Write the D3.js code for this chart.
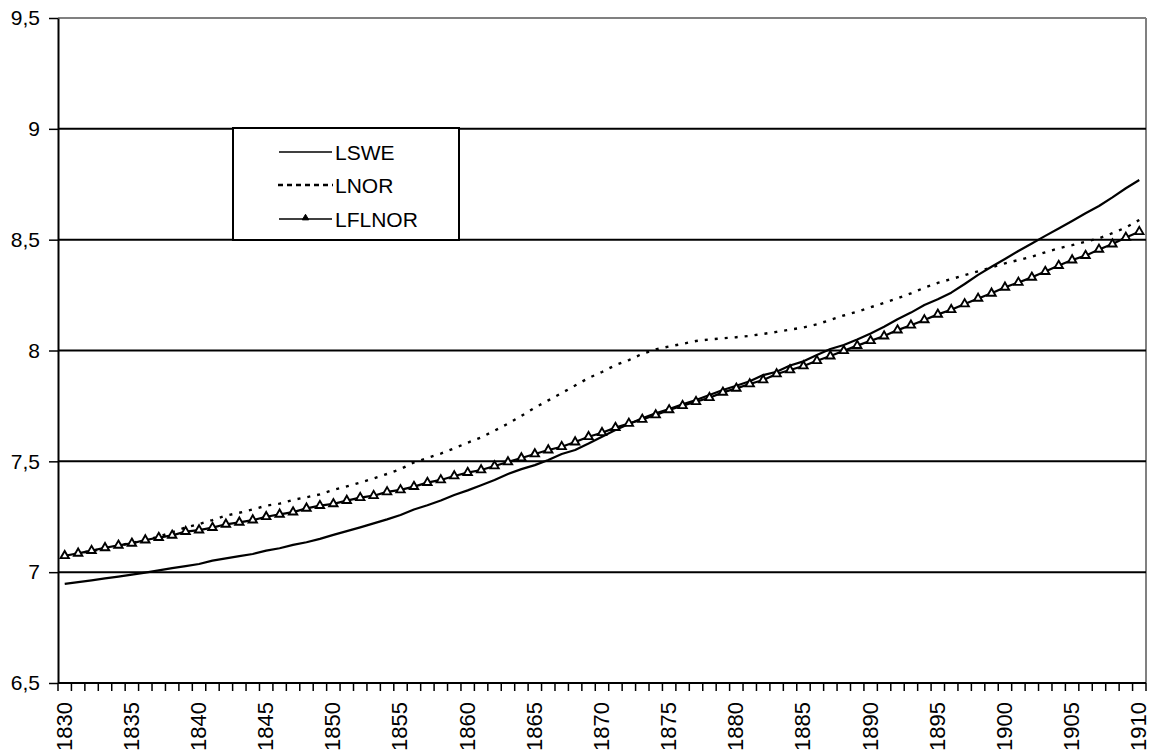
<!DOCTYPE html>
<html>
<head>
<meta charset="utf-8">
<script src="https://cdn.jsdelivr.net/npm/d3@7/dist/d3.min.js"></script>
<style>
  html, body { margin: 0; padding: 0; background: #fff; }
  svg { display: block; font-family: Arial, "Liberation Sans", sans-serif; }
</style>
</head>
<body>
<svg id="chart" width="1149" height="756"></svg>
<script>
// Years on the category axis
const years = d3.range(1830, 1911);

// Series values (log scale), one per year 1830–1910
const LSWE = [
  6.947, 6.955, 6.963, 6.972, 6.980, 6.989, 6.998, 7.008, 7.018, 7.027,
  7.037, 7.052, 7.062, 7.072, 7.082, 7.097, 7.108, 7.123, 7.135, 7.150,
  7.168, 7.185, 7.202, 7.220, 7.238, 7.258, 7.283, 7.302, 7.323, 7.348,
  7.369, 7.392, 7.416, 7.443, 7.465, 7.483, 7.506, 7.533, 7.551, 7.580,
  7.611, 7.641, 7.668, 7.694, 7.717, 7.736, 7.757, 7.777, 7.799, 7.822,
  7.841, 7.861, 7.889, 7.904, 7.932, 7.951, 7.980, 8.007, 8.025, 8.050,
  8.077, 8.107, 8.141, 8.171, 8.205, 8.231, 8.261, 8.300, 8.341, 8.378,
  8.413, 8.449, 8.483, 8.517, 8.550, 8.584, 8.619, 8.652, 8.691, 8.732,
  8.769
];

const LNOR = [
  7.074, 7.085, 7.095, 7.107, 7.120, 7.132, 7.144, 7.160, 7.180, 7.202,
  7.217, 7.235, 7.255, 7.268, 7.283, 7.300, 7.309, 7.326, 7.338, 7.351,
  7.371, 7.387, 7.404, 7.423, 7.443, 7.465, 7.495, 7.515, 7.535, 7.559,
  7.584, 7.608, 7.638, 7.670, 7.705, 7.742, 7.775, 7.808, 7.842, 7.876,
  7.903, 7.934, 7.957, 7.985, 8.005, 8.018, 8.030, 8.043, 8.050, 8.055,
  8.060, 8.066, 8.075, 8.084, 8.094, 8.104, 8.118, 8.138, 8.158, 8.175,
  8.195, 8.215, 8.235, 8.258, 8.283, 8.305, 8.322, 8.340, 8.357, 8.375,
  8.393, 8.408, 8.423, 8.443, 8.461, 8.475, 8.491, 8.506, 8.529, 8.555,
  8.589
];

const LFLNOR = [
  7.074, 7.085, 7.097, 7.110, 7.121, 7.130, 7.145, 7.156, 7.166, 7.183,
  7.190, 7.201, 7.216, 7.225, 7.235, 7.250, 7.261, 7.271, 7.288, 7.300,
  7.308, 7.323, 7.336, 7.345, 7.362, 7.371, 7.386, 7.404, 7.416, 7.434,
  7.449, 7.461, 7.479, 7.497, 7.515, 7.533, 7.551, 7.566, 7.587, 7.611,
  7.629, 7.652, 7.671, 7.689, 7.709, 7.732, 7.751, 7.769, 7.787, 7.811,
  7.829, 7.849, 7.867, 7.894, 7.912, 7.930, 7.954, 7.975, 7.999, 8.022,
  8.044, 8.065, 8.092, 8.114, 8.138, 8.163, 8.184, 8.210, 8.235, 8.258,
  8.285, 8.307, 8.330, 8.356, 8.383, 8.408, 8.428, 8.456, 8.480, 8.510,
  8.536
];

// Value axis ticks and their labels (decimal comma)
const yTicks = [6.5, 7, 7.5, 8, 8.5, 9, 9.5];
const yTickLabels = ["6,5", "7", "7,5", "8", "8,5", "9", "9,5"];

// Every fifth year is labelled
const xTickLabels = years.filter(y => (y - 1830) % 5 === 0).map(String);

const seriesNames = ["LSWE", "LNOR", "LFLNOR"];

// ---- layout ----
const svg = d3.select("#chart");
const plot = { left: 58, right: 1146, top: 18, bottom: 683 };

const x = d3.scaleBand().domain(years).range([plot.left, plot.right]).paddingInner(0).paddingOuter(0);
const cx = yr => x(yr) + x.bandwidth() / 2;
const y = d3.scaleLinear().domain([6.5, 9.5]).range([plot.bottom, plot.top]);

// Plot frame: grey top and right edges
svg.append("line")
  .attr("x1", plot.left).attr("x2", plot.right)
  .attr("y1", plot.top).attr("y2", plot.top)
  .attr("stroke", "#808080").attr("stroke-width", 2);
svg.append("line")
  .attr("x1", plot.right).attr("x2", plot.right)
  .attr("y1", plot.top).attr("y2", plot.bottom)
  .attr("stroke", "#808080").attr("stroke-width", 2);

// Horizontal gridlines
svg.append("g")
  .selectAll("line")
  .data(yTicks.filter(v => v > 6.5 && v < 9.5))
  .join("line")
  .attr("x1", plot.left).attr("x2", plot.right)
  .attr("y1", d => y(d)).attr("y2", d => y(d))
  .attr("stroke", "#000").attr("stroke-width", 2);

// Value axis
const yAxis = d3.axisLeft(y)
  .tickValues(yTicks)
  .tickFormat((d, i) => yTickLabels[i])
  .tickSizeInner(9).tickSizeOuter(0).tickPadding(9);
const gy = svg.append("g").attr("transform", `translate(${plot.left},0)`).call(yAxis);
gy.select(".domain").attr("stroke", "#000").attr("stroke-width", 2);
gy.selectAll(".tick line").attr("stroke", "#000").attr("stroke-width", 1.5);
gy.selectAll(".tick text").attr("font-size", 21).attr("fill", "#000")
  .attr("font-family", "Arial, 'Liberation Sans', sans-serif");

// Category axis: ticks between categories, rotated labels every five years
const gx = svg.append("g");
gx.append("line")
  .attr("x1", plot.left).attr("x2", plot.right)
  .attr("y1", plot.bottom).attr("y2", plot.bottom)
  .attr("stroke", "#000").attr("stroke-width", 2);
const boundaries = years.map(yr => x(yr)).concat([plot.right]);
gx.selectAll("line.tick")
  .data(boundaries)
  .join("line")
  .attr("class", "tick")
  .attr("x1", d => d).attr("x2", d => d)
  .attr("y1", plot.bottom).attr("y2", plot.bottom + 8)
  .attr("stroke", "#000").attr("stroke-width", 1.5);
gx.selectAll("text")
  .data(xTickLabels)
  .join("text")
  .attr("transform", d => `translate(${cx(+d) - 1},${plot.bottom + 19}) rotate(-90)`)
  .attr("text-anchor", "end")
  .attr("dy", "0.36em")
  .attr("font-size", 22)
  .attr("fill", "#000")
  .text(d => d);

// ---- series ----
const lineGen = d3.line().x((d, i) => cx(years[i])).y(d => y(d));

svg.append("path").datum(LSWE)
  .attr("d", lineGen)
  .attr("fill", "none").attr("stroke", "#000").attr("stroke-width", 2.2)
  .attr("stroke-linejoin", "round");

svg.append("path").datum(LNOR)
  .attr("d", lineGen)
  .attr("fill", "none").attr("stroke", "#000").attr("stroke-width", 2.4)
  .attr("stroke-dasharray", "3,7");

svg.append("path").datum(LFLNOR)
  .attr("d", lineGen)
  .attr("fill", "none").attr("stroke", "#000").attr("stroke-width", 2.2)
  .attr("stroke-linejoin", "round");

const tri = d3.symbol().type(d3.symbolTriangle).size(30);
svg.append("g")
  .selectAll("path")
  .data(LFLNOR)
  .join("path")
  .attr("d", tri)
  .attr("transform", (d, i) => `translate(${cx(years[i])},${y(d)})`)
  .attr("fill", "#fff").attr("stroke", "#000").attr("stroke-width", 1.9);

// ---- legend ----
const legend = svg.append("g");
legend.append("rect")
  .attr("x", 233).attr("y", 128).attr("width", 226).attr("height", 112)
  .attr("fill", "#fff").attr("stroke", "#000").attr("stroke-width", 2);

const rows = [152, 185, 219];
const sampleX1 = 279, sampleX2 = 332;

legend.append("line")
  .attr("x1", sampleX1).attr("x2", sampleX2).attr("y1", rows[0]).attr("y2", rows[0])
  .attr("stroke", "#000").attr("stroke-width", 1.6);
legend.append("line")
  .attr("x1", sampleX1 - 1).attr("x2", sampleX2 + 1).attr("y1", rows[1]).attr("y2", rows[1])
  .attr("stroke", "#000").attr("stroke-width", 2.5).attr("stroke-dasharray", "5,4");
legend.append("line")
  .attr("x1", sampleX1).attr("x2", sampleX2).attr("y1", rows[2]).attr("y2", rows[2])
  .attr("stroke", "#000").attr("stroke-width", 1.6);
legend.append("path")
  .attr("d", d3.symbol().type(d3.symbolTriangle).size(18))
  .attr("transform", `translate(${(sampleX1 + sampleX2) / 2},${rows[2] - 1})`)
  .attr("fill", "#000").attr("stroke", "#000").attr("stroke-width", 1);

legend.selectAll("text")
  .data(seriesNames)
  .join("text")
  .attr("x", 335)
  .attr("y", (d, i) => rows[i])
  .attr("dy", "0.36em")
  .attr("font-size", 21)
  .attr("fill", "#000")
  .text(d => d);
</script>
</body>
</html>
